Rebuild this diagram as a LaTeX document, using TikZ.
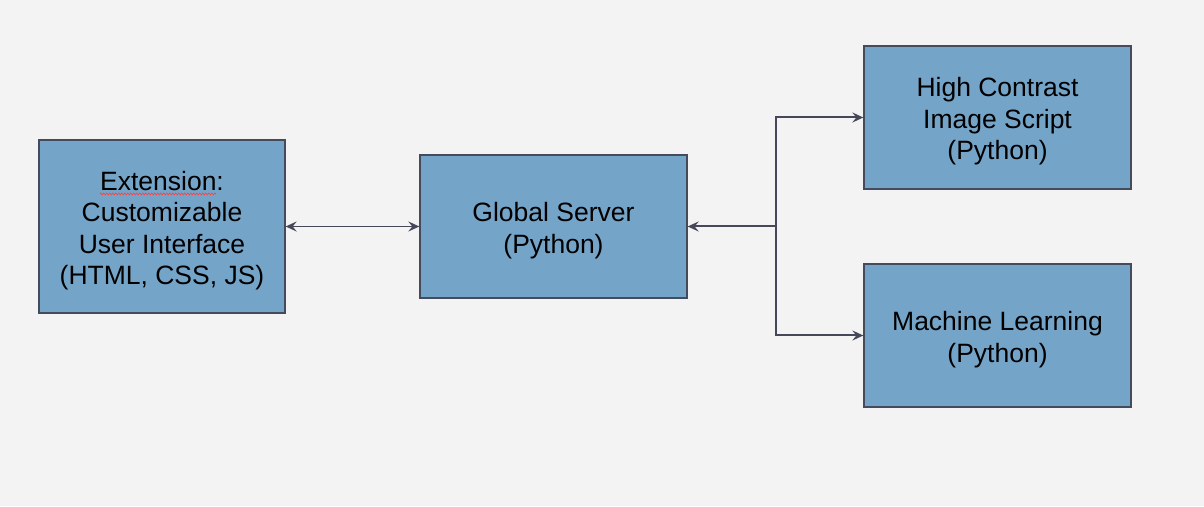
\documentclass[tikz,border=0pt]{standalone}
\usepackage{fontspec}
\setmainfont{Liberation Sans}
\usetikzlibrary{arrows.meta,decorations.pathmorphing}
\definecolor{bg}{HTML}{F3F3F3}
\definecolor{boxfill}{HTML}{75A4C9}
\definecolor{boxline}{HTML}{434B5C}
\definecolor{wire}{HTML}{454859}
\tikzset{
  block/.style={draw=boxline, line width=1.3pt, fill=boxfill, inner sep=0pt},
  blocktext/.style={align=center, inner sep=0pt, yshift=-4pt,
    font=\fontsize{26.5}{31.5}\selectfont},
  tip/.tip={Stealth[length=11pt,width=10pt,inset=4pt]},
  link/.style={draw=wire, line width=2pt, arrows={-tip}},
  squiggle/.style={draw=red!75!white, line width=0.6pt,
    decorate, decoration={zigzag, segment length=3pt, amplitude=1pt}}
}
\begin{document}
\begin{tikzpicture}[x=1pt,y=1pt]
  \fill[bg] (0,0) rectangle (1204,506);
  \useasboundingbox (0,0) rectangle (1204,506);

  % blocks (centre, width x height)
  \node[block, minimum width=246pt, minimum height=173pt] (ext) at (162,279.5) {};
  \node[block, minimum width=267pt, minimum height=143pt] (srv) at (553.5,279.5) {};
  \node[block, minimum width=267pt, minimum height=143pt] (hc) at (997.5,388.5) {};
  \node[block, minimum width=267pt, minimum height=143pt] (ml) at (997.5,170.5) {};

  % block captions
  \node[blocktext] (extlabel) at (ext.center)
    {Extension:\\Customizable\\User Interface\\(HTML, CSS, JS)};
  \node[blocktext] (srvlabel) at (srv.center) {Global Server\\(Python)};
  \node[blocktext] (hclabel) at (hc.center) {High Contrast\\Image Script\\(Python)};
  \node[blocktext] (mllabel) at (ml.center) {Machine Learning\\(Python)};

  % spell-check mark under the first word
  \draw[squiggle] (100,312) -- (216,312);

  % extension <-> server
  \draw[link, line width=1.5pt, arrows={tip-tip}] (ext.east) -- (srv.west);

  % branch point between the server and the two scripts
  \coordinate (hub) at (776,279.5);
  \draw[link] (hub) -- (srv.east);
  \draw[link] (hub) |- (hc.west);
  \draw[link] (hub) |- (ml.west);
\end{tikzpicture}
\end{document}
